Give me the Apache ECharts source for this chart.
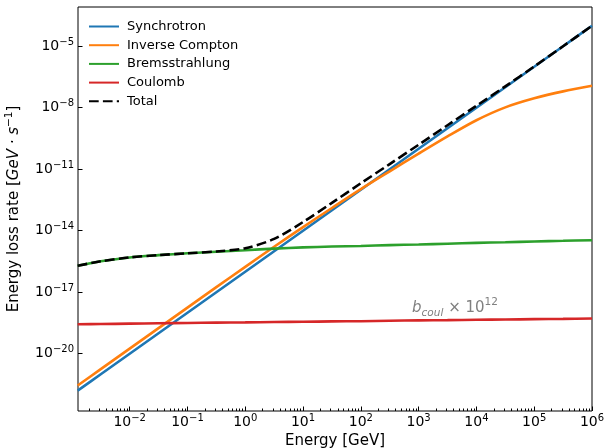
<!DOCTYPE html>
<html><head><meta charset="utf-8">
<script src="https://cdn.jsdelivr.net/npm/echarts@6/dist/echarts.min.js"></script>
<style>html,body{margin:0;padding:0;background:#fff}#c{width:605px;height:448px}</style>
</head><body><div id="c"></div>
<script>
// ---- data (GeV, GeV/s) ----
const energy = [1.26e-3, 3.16e-3, 1e-2, 3.16e-2, 1e-1, 3.16e-1, 1, 3.16, 10, 31.6, 100, 316, 1e3, 3.16e3, 1e4, 3.16e4, 1e5, 3.16e5, 1e6];
const synchrotron = [1.55e-22, 9.77e-22, 9.77e-21, 9.77e-20, 9.77e-19, 9.77e-18, 9.77e-17, 9.77e-16, 9.77e-15, 9.77e-14, 9.77e-13, 9.77e-12, 9.77e-11, 9.77e-10, 9.77e-9, 9.77e-8, 9.77e-7, 9.77e-6, 9.77e-5];
const inverseCompton = [2.75e-22, 1.74e-21, 1.74e-20, 1.74e-19, 1.74e-18, 1.74e-17, 1.70e-16, 1.62e-15, 1.48e-14, 1.26e-13, 1.05e-12, 7.76e-12, 5.62e-11, 3.89e-10, 2.40e-9, 1.02e-8, 2.82e-8, 6.17e-8, 1.15e-7];
const bremsstrahlung = [1.91e-16, 3.16e-16, 4.90e-16, 6.31e-16, 7.76e-16, 9.33e-16, 1.10e-15, 1.32e-15, 1.51e-15, 1.66e-15, 1.78e-15, 1.95e-15, 2.09e-15, 2.29e-15, 2.51e-15, 2.69e-15, 2.95e-15, 3.16e-15, 3.39e-15];
const coulombScaled = [2.69e-19, 2.75e-19, 2.88e-19, 3.02e-19, 3.09e-19, 3.24e-19, 3.31e-19, 3.47e-19, 3.55e-19, 3.72e-19, 3.80e-19, 3.98e-19, 4.17e-19, 4.27e-19, 4.47e-19, 4.57e-19, 4.79e-19, 4.90e-19, 5.13e-19];
const total = [1.91e-16, 3.16e-16, 4.90e-16, 6.33e-16, 7.79e-16, 9.60e-16, 1.37e-15, 3.92e-15, 2.61e-14, 2.25e-13, 2.03e-12, 1.75e-11, 1.54e-10, 1.37e-9, 1.22e-8, 1.08e-7, 1.01e-6, 9.83e-6, 9.78e-5];
const seriesNames = ['Synchrotron', 'Inverse Compton', 'Bremsstrahlung', 'Coulomb', 'Total'];
const xTickExps = [-2, -1, 0, 1, 2, 3, 4, 5, 6];
const yTickExps = [-20, -17, -14, -11, -8, -5];
const xRange = [1.276e-3, 1e6];
const yRange = [1.58e-23, 8.04e-4];
const note = {energy: 770, rate: 1.7e-18};

// ---- chart ----
const FONT = 'DejaVu Sans';
const lg = v => Math.log10(v);
const pts = vals => energy.map((e, i) => [lg(e), lg(vals[i])]);
const supTxt = n => (n < 0 ? '\u2212' + (-n) : '' + n);
const tickFmt = v => '{b|10}{s|' + supTxt(Math.round(v)) + '}';
const tickRich = {
  b: {fontFamily: FONT, fontSize: 14, color: '#000', lineHeight: 18},
  s: {fontFamily: FONT, fontSize: 10, color: '#000', lineHeight: 10, verticalAlign: 'top'}
};
const xMin = lg(xRange[0]), xMax = lg(xRange[1]);
const yMin = lg(yRange[0]), yMax = lg(yRange[1]);
const minorVals = [];
for (let n = -3; n < 6; n++) for (let k = 2; k < 10; k++) {
  const v = n + Math.log10(k);
  if (v > xMin && v < xMax) minorVals.push(v);
}
const colors = ['#1f77b4', '#ff7f0e', '#2ca02c', '#d62728', '#000000'];
const datasets = [synchrotron, inverseCompton, bremsstrahlung, coulombScaled, total];

const chart = echarts.init(document.getElementById('c'), null, {renderer: 'canvas'});
chart.setOption({
  animation: false,
  backgroundColor: '#fff',
  grid: {left: 78, top: 7, width: 514, height: 404, containLabel: false, outerBoundsMode: 'none',
         show: true, borderColor: '#000', borderWidth: 1, backgroundColor: 'transparent'},
  legend: {
    data: seriesNames, orient: 'vertical', left: 83, top: 15,
    itemWidth: 30, itemHeight: 14, itemGap: 5.7,
    itemStyle: {opacity: 0},
    textStyle: {fontFamily: FONT, fontSize: 13, color: '#000', padding: [0, 0, 0, 3]}
  },
  xAxis: [{
    type: 'value', min: xMin, max: xMax, position: 'bottom',
    name: 'Energy [GeV]', nameLocation: 'middle', nameGap: 21,
    nameTextStyle: {fontFamily: FONT, fontSize: 15, color: '#000'},
    axisLine: {show: false, onZero: false},
    splitLine: {show: false},
    axisTick: {show: true, inside: true, length: 4.5, lineStyle: {color: '#000', width: 1}, customValues: xTickExps},
    axisLabel: {show: true, margin: 2, formatter: tickFmt, rich: tickRich, customValues: xTickExps}
  }, {
    type: 'value', min: xMin, max: xMax, position: 'bottom',
    axisLine: {show: false, onZero: false}, splitLine: {show: false}, axisLabel: {show: false},
    axisTick: {show: true, inside: true, length: 2.5, lineStyle: {color: '#000', width: 1}, customValues: minorVals}
  }],
  yAxis: [{
    type: 'value', min: yMin, max: yMax, position: 'left',
    name: '{t|Energy loss rate [}{m|GeV \u00b7 s}{s|\u22121}{t|]}',
    nameLocation: 'middle', nameGap: 54, nameRotate: 90,
    nameTextStyle: {
      fontFamily: FONT, fontSize: 15, color: '#000',
      rich: {
        t: {fontFamily: FONT, fontSize: 15, color: '#000', lineHeight: 20},
        m: {fontFamily: FONT, fontSize: 15, fontStyle: 'italic', color: '#000', lineHeight: 20},
        s: {fontFamily: FONT, fontSize: 10.5, color: '#000', lineHeight: 11, verticalAlign: 'top'}
      }
    },
    axisLine: {show: false, onZero: false},
    splitLine: {show: false},
    axisTick: {show: true, inside: true, length: 4.5, lineStyle: {color: '#000', width: 1}, customValues: yTickExps},
    axisLabel: {show: true, margin: 4, formatter: tickFmt, rich: tickRich, customValues: yTickExps}
  }],
  series: seriesNames.map((name, i) => ({
    name: name, type: 'line', xAxisIndex: 0, yAxisIndex: 0,
    data: pts(datasets[i]),
    showSymbol: false, symbol: 'none', smooth: 0.3,
    color: colors[i],
    lineStyle: {color: colors[i], width: 2.6, type: i === 4 ? [9.7, 4.2] : 'solid', cap: 'butt'},
    z: 2 + i
  }))
});
const p = chart.convertToPixel({xAxisIndex: 0, yAxisIndex: 0}, [lg(note.energy), lg(note.rate)]);
chart.setOption({
  graphic: [{
    type: 'text', x: p[0], y: p[1], z: 100,
    style: {
      text: '{i|b}{sub|coul}{t| \u00d7 10}{sup|12}',
      textVerticalAlign: 'middle', textAlign: 'left',
      rich: {
        i: {fontFamily: FONT, fontSize: 15, fontStyle: 'italic', fill: '#808080', color: '#808080', lineHeight: 22},
        sub: {fontFamily: FONT, fontSize: 10.5, fontStyle: 'italic', fill: '#808080', color: '#808080', lineHeight: 11, verticalAlign: 'bottom'},
        t: {fontFamily: FONT, fontSize: 15, fill: '#808080', color: '#808080', lineHeight: 22},
        sup: {fontFamily: FONT, fontSize: 10.5, fill: '#808080', color: '#808080', lineHeight: 11, verticalAlign: 'top'}
      }
    }
  }]
});
</script></body></html>
